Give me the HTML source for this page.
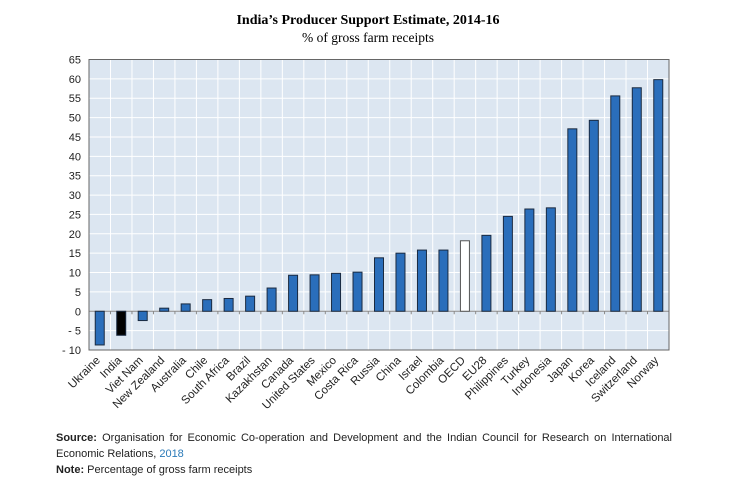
<!DOCTYPE html>
<html><head><meta charset="utf-8">
<style>
body{margin:0;background:#fff;width:736px;height:490px;overflow:hidden;font-family:"Liberation Sans",sans-serif}
#note{position:absolute;left:56px;top:430px;width:616px;font-size:11px;line-height:16px;color:#222;text-align:justify}
#note b{font-weight:bold}
</style></head><body>
<svg id="chart" width="736" height="425" style="position:absolute;left:0;top:0">
<text x="368" y="24" text-anchor="middle" font-family="Liberation Serif,serif" font-weight="bold" font-size="14">India’s Producer Support Estimate, 2014-16</text>
<text x="368" y="42" text-anchor="middle" font-family="Liberation Serif,serif" font-size="13.5">% of gross farm receipts</text>
<g id="g"></g>
</svg>
<div id="note"><b>Source:</b> Organisation for Economic Co-operation and Development and the Indian Council for Research on International Economic Relations, <span style="color:#2a7ab8">2018</span><br><b>Note:</b> Percentage of gross farm receipts</div>
<script>
const categories=["Ukraine","India","Viet Nam","New Zealand","Australia","Chile","South Africa","Brazil","Kazakhstan","Canada","United States","Mexico","Costa Rica","Russia","China","Israel","Colombia","OECD","EU28","Philippines","Turkey","Indonesia","Japan","Korea","Iceland","Switzerland","Norway"];
const values=[-8.7,-6.2,-2.4,0.8,1.9,3.0,3.3,3.9,6.0,9.3,9.4,9.8,10.1,13.8,15.0,15.8,15.8,18.2,19.6,24.5,26.4,26.7,47.1,49.3,55.6,57.7,59.8];
const yTicks=[65,60,55,50,45,40,35,30,25,20,15,10,5,0,-5,-10];
const tickLabels=["65","60","55","50","45","40","35","30","25","20","15","10","5","0","- 5","- 10"];
const L=89,R=669,T=59.5,B=350,ymin=-10,ymax=65;
const y=v=>B-(v-ymin)/(ymax-ymin)*(B-T);
const bw=(R-L)/categories.length;
const x=i=>L+bw*(i+0.5);
const g=document.getElementById('g');
const NS="http://www.w3.org/2000/svg";
function mk(t,a){const e=document.createElementNS(NS,t);for(const k in a)e.setAttribute(k,a[k]);g.appendChild(e);return e;}
let e=mk('rect',{x:L,y:T,width:R-L,height:B-T,fill:'#dce6f1'});


yTicks.forEach((v,i)=>{
 let l=mk('line',{x1:L,x2:R,y1:y(v),y2:y(v),stroke:'#fff','stroke-width':1});
 
 
 let t=mk('text',{x:L-8,y:y(v)+4,'text-anchor':'end','font-size':11,fill:'#222'});
 t.textContent=tickLabels[i];
 
 
});
for(let i=1;i<categories.length;i++){
 let l=mk('line',{x1:L+bw*i,x2:L+bw*i,y1:T,y2:B,stroke:'#fff','stroke-width':1});
 
 
}
let z=mk('line',{x1:L,x2:R,y1:y(0),y2:y(0),stroke:'#888','stroke-width':1});


for(let i=0;i<=categories.length;i++){
 let t=mk('line',{x1:L+bw*i,x2:L+bw*i,y1:y(0),y2:y(0)+3,stroke:'#888'});
 
 
}
categories.forEach((c,i)=>{
 const v=values[i];
 const fill=c==="India"?'#000':c==="OECD"?'#fff':'#2a6ebb';
 let r=mk('rect',{x:x(i)-4.5,y:Math.min(y(v),y(0)),width:9,height:Math.abs(y(v)-y(0)),fill:fill,stroke:c==="OECD"?'#555':'#1a2a40','stroke-width':1});
 
 
 const ax=x(i)+1, ay=B+11;
 let t=mk('text',{x:ax,y:ay,'text-anchor':'end','font-size':11.5,fill:'#222',transform:`rotate(-45 ${ax} ${ay})`});
 t.textContent=c;
 
 
});
let bd=mk('rect',{x:L,y:T,width:R-L,height:B-T,fill:'none',stroke:'#666','stroke-width':1});


</script>
</body></html>
